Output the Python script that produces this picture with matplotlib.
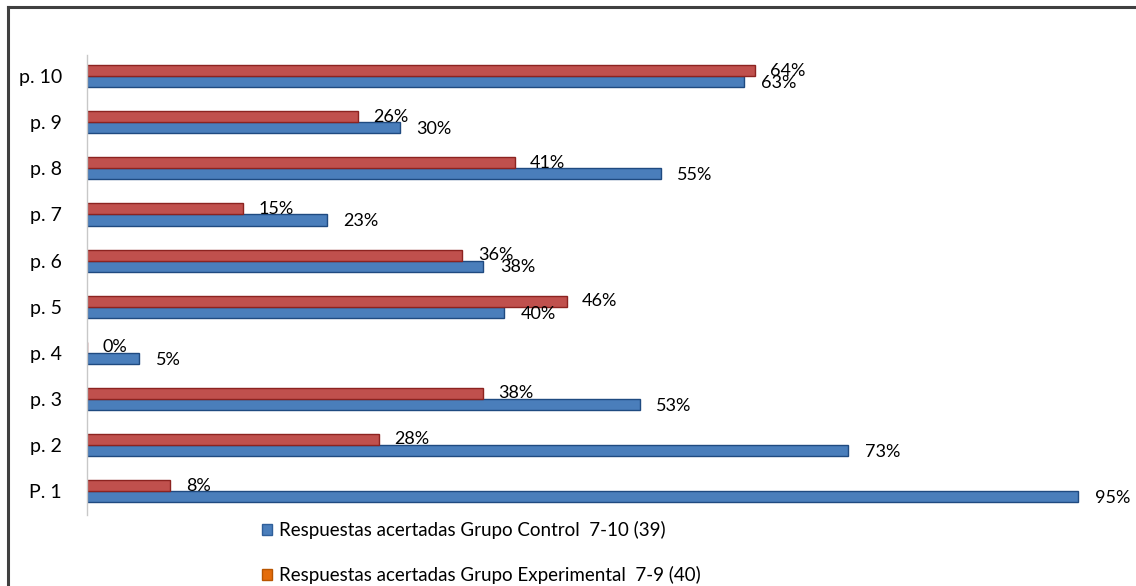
import matplotlib.pyplot as plt
from matplotlib.patches import Patch
from matplotlib.lines import Line2D

plt.rcParams['font.family'] = ['Lato', 'DejaVu Sans']

preguntas = ['P. 1', 'p. 2', 'p. 3', 'p. 4', 'p. 5', 'p. 6', 'p. 7', 'p. 8', 'p. 9', 'p. 10']
control = [95, 73, 53, 5, 40, 38, 23, 55, 30, 63]
experimental = [8, 28, 38, 0, 46, 36, 15, 41, 26, 64]
leyenda = ['Respuestas acertadas Grupo Control  7-10 (39)',
           'Respuestas acertadas Grupo Experimental  7-9 (40)']

W, H = 1136, 586
fig = plt.figure(figsize=(W / 100, H / 100), dpi=100)
ax = fig.add_axes([87 / W, 71 / H, 1043 / W, 460 / H])

y = list(range(len(preguntas)))
h = 0.24
azul = '#4A7EBB'
rojo = '#C0504D'

ax.barh([i - h / 2 for i in y], control, height=h, color=azul,
        edgecolor='#1F4A80', linewidth=1.0)
ax.barh([i + h / 2 for i in y], experimental, height=h, color=rojo,
        edgecolor='#8C2320', linewidth=1.0)

for i in y:
    ax.annotate(f'{control[i]}%', (control[i], i - h / 2), xytext=(12, -1),
                textcoords='offset points', va='center', ha='left', fontsize=13)
    ax.annotate(f'{experimental[i]}%', (experimental[i], i + h / 2), xytext=(11, 0),
                textcoords='offset points', va='center', ha='left', fontsize=13)

ax.set_xlim(0, 100)
ax.set_ylim(-0.52, 9.46)
ax.set_yticks(y)
ax.set_yticklabels(preguntas, fontsize=14)
ax.tick_params(axis='y', length=0, pad=18)
ax.set_xticks([])
for s in ['top', 'right', 'bottom']:
    ax.spines[s].set_visible(False)
ax.spines['left'].set_color('#C8C8C8')
ax.spines['left'].set_linewidth(1.0)

handles = [Patch(facecolor=azul, edgecolor='#2F5F9A'),
           Patch(facecolor='#E46C0A', edgecolor='#B85500')]
fig.legend(handles, leyenda, loc='upper left', bbox_to_anchor=(245 / W, 1 - 504 / H),
           frameon=False, fontsize=13.5, handlelength=0.55, handleheight=0.55,
           handletextpad=0.35, labelspacing=1.45)

# marco exterior
fig.add_artist(Line2D([8 / W, 8 / W], [0, 1 - 7 / H], color='#404040', linewidth=2.2))
fig.add_artist(Line2D([8 / W, 1], [1 - 7 / H, 1 - 7 / H], color='#404040', linewidth=2.2))

fig.savefig('out.png', dpi=100)
